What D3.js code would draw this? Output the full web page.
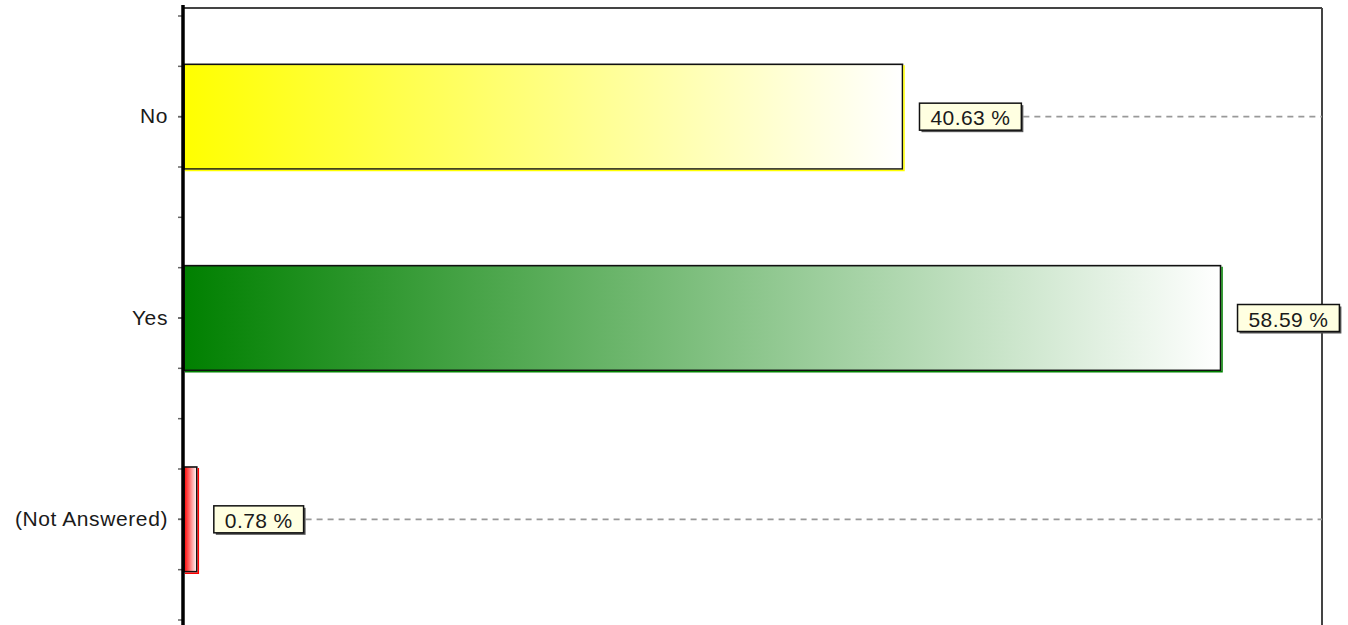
<!DOCTYPE html>
<html>
<head>
<meta charset="utf-8">
<script src="https://cdn.jsdelivr.net/npm/d3@7"></script>
<style>
html,body{margin:0;padding:0;background:#fff;}
svg{display:block;}
</style>
</head>
<body>
<svg id="chart" width="1348" height="625"></svg>
<script>
const categories = ["No", "Yes", "(Not Answered)"];
const values = [40.63, 58.59, 0.78];
const valueLabels = ["40.63 %", "58.59 %", "0.78 %"];
const colors = ["#ffff00", "#008000", "#ff0000"];
const xMax = 64.32;

const W = 1348, H = 625;
const left = 183, right = 1322, topY = 8;
const svg = d3.select("#chart");
const font = "'Liberation Sans', Arial, sans-serif";

const x = d3.scaleLinear().domain([0, xMax]).range([left, right]);
const y = d3.scaleBand().domain(categories).range([16, 620]).paddingInner(0.48).paddingOuter(0.24);
const yLin = d3.scaleLinear().domain([-0.5, categories.length - 0.5]).range([16, 620]);

// gradients
const defs = svg.append("defs");
colors.forEach((c, i) => {
  const g = defs.append("linearGradient").attr("id", "grad" + i)
    .attr("x1", "0%").attr("x2", "100%").attr("y1", "0%").attr("y2", "0%");
  g.append("stop").attr("offset", "0%").attr("stop-color", c);
  g.append("stop").attr("offset", "100%").attr("stop-color", "#ffffff");
});

// frame
svg.append("line").attr("x1", left).attr("x2", right).attr("y1", topY).attr("y2", topY)
  .attr("stroke", "#444").attr("stroke-width", 2);
svg.append("line").attr("x1", right).attr("x2", right).attr("y1", topY).attr("y2", H)
  .attr("stroke", "#444").attr("stroke-width", 2);

const rows = categories.map((c, i) => ({c, v: values[i], label: valueLabels[i], i}));

// bars
const gBars = svg.append("g");
rows.forEach(d => {
  const y0 = y(d.c), h = y.bandwidth();
  const x1 = x(d.v);
  gBars.append("rect")
    .attr("x", left + 1).attr("y", y0)
    .attr("width", Math.max(0, x1 - left - 1)).attr("height", h)
    .attr("fill", `url(#grad${d.i})`)
    .attr("stroke", "#111").attr("stroke-width", 1.6);
  gBars.append("path")
    .attr("d", `M${x1 + 1.5},${y0 + 1} L${x1 + 1.5},${y0 + h + 1.5} L${left + 2},${y0 + h + 1.5}`)
    .attr("fill", "none").attr("stroke", colors[d.i]).attr("stroke-width", 1.5);
});

// y axis
const axisTicks = d3.range(-0.5, categories.length - 0.5 + 0.001, 0.25);
const gMinor = svg.append("g");
axisTicks.forEach(t => {
  gMinor.append("line").attr("x1", left - 5).attr("x2", left).attr("y1", yLin(t)).attr("y2", yLin(t))
    .attr("stroke", "#666").attr("stroke-width", 1.5);
});
const yAxis = d3.axisLeft(y).tickSize(5).tickPadding(10);
const gY = svg.append("g").attr("transform", `translate(${left},0)`).call(yAxis);
gY.select(".domain").remove();
gY.selectAll(".tick line").attr("stroke", "#666").attr("stroke-width", 1.5);
gY.selectAll(".tick text").attr("font-family", font).attr("font-size", 21)
  .attr("letter-spacing", 0.6).attr("fill", "#1a1a1a");
svg.append("line").attr("x1", left).attr("x2", left).attr("y1", 5).attr("y2", H)
  .attr("stroke", "#000").attr("stroke-width", 3.5);

// value labels
const gLab = svg.append("g");
rows.forEach(d => {
  const cy = y(d.c) + y.bandwidth() / 2;
  const bx = x(d.v) + 17;
  const g = gLab.append("g");
  const txt = g.append("text").attr("font-family", font).attr("font-size", 21)
    .attr("letter-spacing", 0.4).attr("fill", "#1a1a1a")
    .attr("dominant-baseline", "central").text(d.label);
  const tw = txt.node().getComputedTextLength();
  const bw = tw + 22, bh = 27;
  const by = cy - bh / 2;
  const dashStart = bx + bw + 2;
  if (dashStart < right) {
    gLab.insert("line", ":first-child").attr("x1", dashStart).attr("x2", right).attr("y1", cy).attr("y2", cy)
      .attr("stroke", "#999").attr("stroke-width", 1.6).attr("stroke-dasharray", "6,5");
  }
  g.insert("rect", "text").attr("x", bx + 2).attr("y", by + 2).attr("width", bw).attr("height", bh)
    .attr("fill", "#555");
  g.insert("rect", "text").attr("x", bx).attr("y", by).attr("width", bw).attr("height", bh)
    .attr("fill", "#ffffe1").attr("stroke", "#111").attr("stroke-width", 1.5);
  txt.attr("x", bx + bw / 2).attr("y", cy + 1).attr("text-anchor", "middle");
});
</script>
</body>
</html>
